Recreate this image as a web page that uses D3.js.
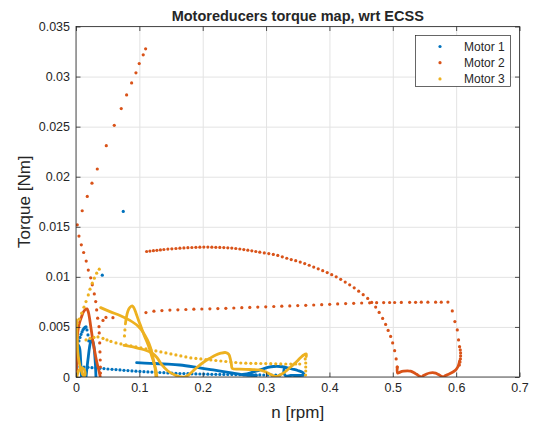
<!DOCTYPE html>
<html><head><meta charset="utf-8">
<script src="https://cdn.jsdelivr.net/npm/d3@7/dist/d3.min.js"></script>
<style>
body{margin:0;background:#fff;}
text{font-family:Arial,"Liberation Sans",Helvetica,sans-serif;fill:#262626;}
</style>
</head><body>
<svg id="chart" width="535" height="425"></svg>
<script>
// ---------- data ----------
const xTicks = [0,0.1,0.2,0.3,0.4,0.5,0.6,0.7];
const xTickLabels = ["0","0.1","0.2","0.3","0.4","0.5","0.6","0.7"];
const yTicks = [0,0.005,0.01,0.015,0.02,0.025,0.03,0.035];
const yTickLabels = ["0","0.005","0.01","0.015","0.02","0.025","0.03","0.035"];
const seriesNames = ["Motor 1","Motor 2","Motor 3"];
const seriesColors = ["#0072BD","#D95319","#EDB120"];
const titleText = "Motoreducers torque map, wrt ECSS";
const xLabel = "n [rpm]";
const yLabel = "Torque [Nm]";

// Motor 1 (sparse samples)
const motor1Dots = [
 [0.0746,0.01653],[0.0415,0.01017],
 [0.0016,0.0027],[0.0032,0.0032],[0.0047,0.0036],[0.0063,0.00395],[0.0079,0.00425],[0.0095,0.0045],[0.0110,0.0047],[0.0126,0.00485],[0.0142,0.00495],[0.0158,0.005],[0.0173,0.0047],[0.0189,0.0042],[0.0202,0.0036],
 [0.0063,0.00103],[0.0126,0.001],[0.0189,0.00097],[0.0252,0.00093],[0.0315,0.0009],[0.0378,0.00087],[0.0441,0.00084],[0.0504,0.0008],[0.0568,0.00077],[0.0631,0.00074],[0.0694,0.00071],[0.0757,0.00067],[0.0820,0.00064],[0.0883,0.00061],[0.0946,0.00058],[0.1009,0.00056],[0.1072,0.00053],[0.1135,0.00051],[0.1198,0.00049],[0.1261,0.00047],[0.1324,0.00045],[0.1387,0.00043],[0.1450,0.00041],[0.1513,0.00039],[0.1577,0.00037],[0.1640,0.00035],[0.1703,0.00034],[0.1766,0.00033],[0.1829,0.00032],[0.1892,0.00031],[0.1955,0.0003],[0.2018,0.00029],[0.2081,0.00028],[0.2144,0.00027],[0.2207,0.00027],[0.2270,0.00026],[0.2333,0.00026],[0.2396,0.00025],[0.2459,0.00025],[0.2522,0.00024],[0.2586,0.00024],[0.2649,0.00023],[0.2712,0.00023],[0.2775,0.00022],[0.2838,0.00022],[0.2901,0.00021],[0.2964,0.0002],[0.3027,0.0002],[0.3090,0.00019],[0.3153,0.00019],[0.3216,0.00018]
];
// Motor 1 (dense samples, drawn as continuous strokes)
const motor1Traces = [
 [[0.0008,0],[0.0008,0.0011],[0.0016,0.0021],[0.0028,0.0028],[0.0044,0.0031],[0.0060,0.0028],[0.0071,0.0019],[0.0079,0.0009],[0.0087,0]],
 [[0.0158,0],[0.0173,0.0009],[0.0194,0.002],[0.0213,0.00295],[0.0229,0.00345],[0.0248,0.00365],[0.0268,0.0035],[0.0284,0.003],[0.0296,0.0022],[0.0307,0.0012],[0.0315,0]],
 [[0.0957,0.00143],[0.1167,0.00137],[0.1376,0.0013],[0.1640,0.0012],[0.1903,0.00097],[0.2165,0.0007],[0.2428,0.00043],[0.2638,0.00022],[0.2849,0.00015]],
 [[0.2633,0.00025],[0.2743,0.0004],[0.2854,0.0006],[0.2948,0.0008],[0.3027,0.00095],[0.3122,0.00105],[0.3216,0.00105],[0.3311,0.00095],[0.3405,0.0008],[0.3500,0.00065],[0.3579,0.00045],[0.3595,0.0002],[0.3500,0.00015],[0.3390,0.00015],[0.3311,0.0001],[0.3279,0.0005],[0.3295,0.001]]
];

// Motor 2 (sparse samples)
const motor2Dots = [
 [0.1099,0.03277],[0.1061,0.03217],[0.0998,0.0313],[0.0946,0.03037],[0.0878,0.02937],[0.0799,0.02817],[0.0714,0.0268],[0.0604,0.02513],[0.0478,0.0231],[0.0336,0.02077],[0.0252,0.01935],[0.0178,0.01803],[0.0098,0.0166],[0.0020,0.0152],[0.0047,0.01407],[0.0084,0.0132],[0.0121,0.01243],[0.0161,0.01158],[0.0194,0.01068],[0.0232,0.0099],[0.0257,0.0092],[0.0289,0.0083],[0.0311,0.00753],[0.0326,0.0067],[0.0342,0.00587],[0.0363,0.00503],[0.0367,0.0044],[0.0374,0.0034],[0.0378,0.0025],[0.0382,0.0017],[0.0385,0.001],[0.0386,0.0004],
 [0.1115,0.01253],[0.1167,0.01257],[0.1222,0.01261],[0.1277,0.01265],[0.1332,0.01269],[0.1387,0.01273],[0.1450,0.01277],[0.1513,0.0128],[0.1577,0.01283],[0.1640,0.01286],[0.1703,0.01289],[0.1766,0.01291],[0.1829,0.01293],[0.1892,0.01295],[0.1955,0.01296],[0.2018,0.01297],[0.2081,0.01297],[0.2144,0.01296],[0.2207,0.01295],[0.2270,0.01294],[0.2333,0.01292],[0.2396,0.0129],[0.2459,0.01287],[0.2522,0.01283],[0.2586,0.01278],[0.2649,0.01272],[0.2712,0.01266],[0.2775,0.0126],[0.2838,0.01253],[0.2901,0.01246],[0.2972,0.01239],[0.3043,0.01232],[0.3114,0.01224],[0.3185,0.01214],[0.3256,0.012],[0.3327,0.01186],[0.3397,0.01173],[0.3468,0.01162],[0.3539,0.01148],[0.3610,0.01133],[0.3681,0.01116],[0.3752,0.01098],[0.3823,0.0108],[0.3894,0.01062],[0.3965,0.01043],[0.4036,0.01022],[0.4107,0.01],[0.4178,0.00975],[0.4249,0.00948],[0.4320,0.0092],[0.4391,0.0089],[0.4462,0.00857],[0.4533,0.00822],[0.4604,0.00785],[0.4667,0.00745],[0.4730,0.00698],[0.4785,0.00645],[0.4840,0.00585],[0.4887,0.00525],[0.4927,0.00465],[0.4966,0.00405],[0.4998,0.0034],[0.5029,0.00263],[0.5053,0.0018],[0.5069,0.001],
 [0.0426,0.00565],[0.0473,0.00595],[0.0583,0.00592],[0.1104,0.00643],[0.1230,0.00657],[0.1356,0.00663],[0.1482,0.00668],[0.1608,0.00671],[0.1734,0.00674],[0.1860,0.00677],[0.1986,0.00679],[0.2113,0.00681],[0.2239,0.00683],[0.2365,0.00686],[0.2491,0.00689],[0.2617,0.00692],[0.2743,0.00695],[0.2869,0.00698],[0.2995,0.00701],[0.3122,0.00704],[0.3248,0.00707],[0.3374,0.0071],[0.3500,0.00713],[0.3626,0.00716],[0.3752,0.00719],[0.3878,0.00722],[0.4004,0.00726],[0.4130,0.0073],[0.4256,0.00733],[0.4383,0.00736],[0.4509,0.00739],[0.4635,0.00741],[0.4745,0.00742],[0.4856,0.00743],[0.4950,0.00744],[0.5029,0.00744],[0.5135,0.00745],[0.5266,0.00746],[0.5360,0.00746],[0.5450,0.00747],[0.5554,0.00747],[0.5676,0.00747],[0.5765,0.00747],[0.5870,0.00748],
 [0.5939,0.0066],[0.5980,0.00553],[0.6018,0.0047],[0.6038,0.0037],[0.6054,0.00303],[0.6065,0.0027],[0.6070,0.0024],[0.6070,0.0021],[0.6067,0.0018],[0.6061,0.0015],[0.6051,0.0012]
];
// Motor 2 (dense samples)
const motor2Traces = [
 [[0.0008,0],[0.0008,0.0012],[0.0013,0.0027],[0.0020,0.0039],[0.0032,0.0047],[0.0055,0.0054],[0.0087,0.006],[0.0118,0.0065],[0.0150,0.00675],[0.0173,0.0068],[0.0194,0.0065],[0.0213,0.0059],[0.0229,0.0052],[0.0248,0.0044],[0.0268,0.0035],[0.0292,0.0027],[0.0315,0.0019],[0.0339,0.0012],[0.0363,0.0006],[0.0383,0]],
 [[0.5072,0.001],[0.5076,0.0004],[0.5124,0.00052],[0.5171,0.00058],[0.5234,0.00062],[0.5281,0.00058],[0.5329,0.00045],[0.5376,0.00027],[0.5423,0.00008],[0.5450,0],[0.5486,0.00015],[0.5534,0.0003],[0.5581,0.0004],[0.5628,0.00044],[0.5676,0.00039],[0.5723,0.00024],[0.5770,0.00007],[0.5791,0],[0.5833,0.00014],[0.5881,0.00028],[0.5928,0.00043],[0.5975,0.00062],[0.6007,0.00082],[0.6030,0.00105],[0.6046,0.00135],[0.6054,0.0016]]
];

// Motor 3 (sparse samples)
const motor3Dots = [
 [0.0020,0.00537],[0.0052,0.00577],[0.0090,0.00637],[0.0126,0.00697],[0.0158,0.00753],[0.0194,0.0082],[0.0221,0.00877],[0.0257,0.00937],[0.0289,0.00987],[0.0326,0.01037],[0.0367,0.01077],
 [0.0772,0.0047],[0.0765,0.0041],
 [0.0158,0.0037],[0.0221,0.00385],[0.0284,0.00395],[0.0347,0.004],[0.0426,0.00385],[0.0489,0.0037],[0.0552,0.00355],[0.0631,0.0034],[0.0709,0.0033],[0.0788,0.0032],[0.0867,0.0031],[0.0946,0.003],[0.1025,0.0029],[0.1104,0.0028],[0.1182,0.0027],[0.1261,0.0026],[0.1340,0.0025],[0.1419,0.0024],[0.1498,0.0023],[0.1577,0.0022],[0.1655,0.0021],[0.1734,0.002],[0.1813,0.0019],[0.1892,0.00185],[0.1971,0.0018],[0.2050,0.00175],[0.2128,0.0017],[0.2207,0.00165],[0.2286,0.0016],[0.2365,0.00155],[0.2444,0.0015],[0.2522,0.00145],[0.2601,0.0014],[0.2680,0.00138],[0.2759,0.00137],[0.2838,0.00136],[0.2917,0.00135],[0.2995,0.00134],[0.3074,0.00133],[0.3153,0.00132],[0.3232,0.00131],[0.3311,0.0013],[0.3390,0.0013],[0.3468,0.0013],[0.3531,0.0013],
 [0.3618,0.0018],[0.3626,0.0014],[0.3626,0.001],[0.3626,0.0006],[0.3623,0.0002]
];
// Motor 3 (dense samples)
const motor3Traces = [
 [[0.0389,0.00693],[0.0536,0.00653],[0.0694,0.00615],[0.0851,0.00565],[0.0977,0.0051],[0.1061,0.00445],[0.1127,0.0037],[0.1175,0.00295],[0.1206,0.0022],[0.1230,0.0015],[0.1250,0.0008],[0.1261,0]],
 [[0.0780,0.0053],[0.0796,0.006],[0.0820,0.0066],[0.0851,0.00695],[0.0888,0.0071],[0.0914,0.0069],[0.0946,0.0064],[0.0985,0.0057],[0.1033,0.0049],[0.1080,0.0041],[0.1127,0.0034],[0.1167,0.0027],[0.1198,0.00205],[0.1230,0.0014],[0.1261,0.0007],[0.1277,0]],
 [[0.0757,0.00315],[0.0930,0.00295],[0.1088,0.0027],[0.1198,0.0024],[0.1277,0.00195],[0.1356,0.0012],[0.1450,0.0006],[0.1561,0.0002],[0.1655,0],[0.1734,0.00005],[0.1813,0.0004],[0.1908,0.00095],[0.2018,0.0015],[0.2113,0.00187],[0.2207,0.0022],[0.2286,0.00238],[0.2365,0.00244],[0.2412,0.00225],[0.2436,0.0018],[0.2452,0.0013],[0.2467,0.00085],[0.2586,0.00078],[0.2743,0.00075],[0.2901,0.0007],[0.2995,0.0005],[0.3074,0.00025],[0.3164,0.00005],[0.3248,0.0003],[0.3327,0.00065],[0.3405,0.0011],[0.3484,0.00155],[0.3547,0.00195],[0.3594,0.0022],[0.3634,0.0023],[0.3634,0.00205]],
 [[0.0008,0.0057],[0.0013,0.0047],[0.0019,0.0035],[0.0028,0.0025],[0.0044,0.0017],[0.0063,0.0011],[0.0087,0.0006],[0.0110,0.0002],[0.0134,0.0001],[0.0142,0.0005],[0.0118,0.00085],[0.0079,0.0009],[0.0039,0.0006],[0.0016,0.0001]]
];

const seriesDots = [motor1Dots, motor2Dots, motor3Dots];
const seriesTraces = [motor1Traces, motor2Traces, motor3Traces];

// ---------- drawing ----------
const L = 76, R = 519.5, T = 26.5, B = 377;
const svg = d3.select("#chart");
svg.append("rect").attr("width",535).attr("height",425).attr("fill","#fff");
const x = d3.scaleLinear().domain([0,0.7]).range([L,R]);
const y = d3.scaleLinear().domain([0,0.035]).range([B,T]);

// grid
const grid = svg.append("g");
grid.append("g").attr("transform",`translate(0,${B})`)
  .call(d3.axisBottom(x).tickValues(xTicks).tickSize(-(B-T)).tickFormat(""))
  .call(g=>{g.select(".domain").remove(); g.selectAll("line").attr("stroke","#e3e3e3").attr("stroke-width",1);});
grid.append("g").attr("transform",`translate(${L},0)`)
  .call(d3.axisLeft(y).tickValues(yTicks).tickSize(-(R-L)).tickFormat(""))
  .call(g=>{g.select(".domain").remove(); g.selectAll("line").attr("stroke","#e3e3e3").attr("stroke-width",1);});

// data
svg.append("clipPath").attr("id","clip").append("rect")
  .attr("x",L).attr("y",T).attr("width",R-L).attr("height",B-T);
const plot = svg.append("g").attr("clip-path","url(#clip)");
const line = d3.line().x(d=>x(d[0])).y(d=>y(d[1])).curve(d3.curveCatmullRom.alpha(0.5));
seriesNames.forEach((name,i)=>{
  const g = plot.append("g");
  g.selectAll("path").data(seriesTraces[i]).join("path")
    .attr("d",line).attr("fill","none").attr("stroke",seriesColors[i])
    .attr("stroke-width",2.8).attr("stroke-linecap","round").attr("stroke-linejoin","round");
  g.selectAll("circle").data(seriesDots[i]).join("circle")
    .attr("cx",d=>x(d[0])).attr("cy",d=>y(d[1])).attr("r",1.6).attr("fill",seriesColors[i]);
});

// axes with inward ticks
const axisColor = "#262626";
function styleAxis(g){
  g.select(".domain").remove();
  g.selectAll("line").attr("stroke",axisColor).attr("stroke-width",0.8);
  g.selectAll("text").attr("fill",axisColor).style("font-size","12.5px")
    .style("font-family",'Arial,"Liberation Sans",Helvetica,sans-serif');
}
svg.append("g").attr("transform",`translate(0,${B})`)
  .call(d3.axisBottom(x).tickValues(xTicks).tickSizeInner(-4.5).tickSizeOuter(0).tickPadding(6)
     .tickFormat((d,i)=>xTickLabels[i])).call(styleAxis);
svg.append("g").attr("transform",`translate(0,${T})`)
  .call(d3.axisTop(x).tickValues(xTicks).tickSizeInner(-4.5).tickSizeOuter(0).tickFormat("")).call(styleAxis);
svg.append("g").attr("transform",`translate(${L},0)`)
  .call(d3.axisLeft(y).tickValues(yTicks).tickSizeInner(-4.5).tickSizeOuter(0).tickPadding(6)
     .tickFormat((d,i)=>yTickLabels[i])).call(styleAxis);
svg.append("g").attr("transform",`translate(${R},0)`)
  .call(d3.axisRight(y).tickValues(yTicks).tickSizeInner(-4.5).tickSizeOuter(0).tickFormat("")).call(styleAxis);
svg.append("rect").attr("x",L).attr("y",T).attr("width",R-L).attr("height",B-T)
  .attr("fill","none").attr("stroke",axisColor).attr("stroke-width",0.8);

// title and labels
svg.append("text").attr("x",(L+R)/2).attr("y",21).attr("text-anchor","middle")
  .style("font-size","14.5px").style("font-weight","bold").text(titleText);
svg.append("text").attr("x",(L+R)/2).attr("y",418).attr("text-anchor","middle")
  .style("font-size","17px").text(xLabel);
svg.append("text").attr("transform",`translate(30,${(T+B)/2}) rotate(-90)`).attr("text-anchor","middle")
  .style("font-size","17px").text(yLabel);

// legend
const lg = svg.append("g");
lg.append("rect").attr("x",415.5).attr("y",35.5).attr("width",95).attr("height",51)
  .attr("fill","#fff").attr("stroke",axisColor).attr("stroke-width",0.7);
seriesNames.forEach((name,i)=>{
  const cy = 46.5 + i*16.2;
  lg.append("circle").attr("cx",440).attr("cy",cy).attr("r",1.6).attr("fill",seriesColors[i]);
  lg.append("text").attr("x",464).attr("y",cy).attr("dy","0.35em").style("font-size","12px").text(name);
});
</script>
</body></html>
